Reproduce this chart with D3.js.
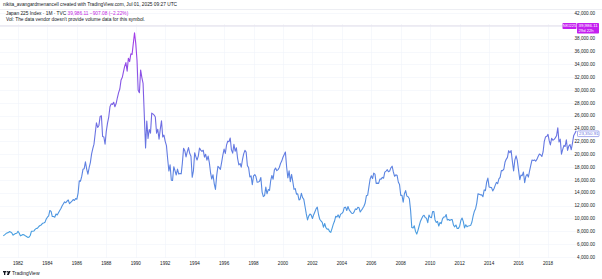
<!DOCTYPE html>
<html>
<head>
<meta charset="utf-8">
<script src="https://cdn.jsdelivr.net/npm/d3@7"></script>
<style>
  body { margin: 0; background: #fff; }
  svg text { font-family: "Liberation Sans", Arial, sans-serif; }
</style>
</head>
<body>
<div id="chart"></div>
<script>
var outerWidth = 602,
    outerHeight = 279;

var startYear = 1981;

// Nikkei 225, monthly closes, Jan 1981 .. Dec 2019 (12 per row)
var closes = [
  7300, 7450, 7600, 7750, 7800, 7950, 7900, 7750, 7400, 7550, 7650, 7700,
  8000, 7700, 7300, 7400, 7500, 7450, 7300, 7200, 7050, 7100, 7350, 8016,
  8000, 8050, 8300, 8450, 8500, 8750, 8900, 9000, 9250, 9300, 9400, 9893,
  10200, 10400, 11250, 11100, 10300, 10300, 10200, 10700, 10550, 10900, 11250, 11542,
  11990, 12300, 12580, 12450, 12700, 12880, 12300, 12500, 12700, 12950, 12800, 13113,
  13000, 14000, 15860, 15800, 16550, 17650, 17750, 18820, 17700, 16900, 17900, 18701,
  20050, 20900, 21570, 23270, 24900, 24180, 24490, 25900, 26000, 22770, 22690, 21564,
  23620, 24900, 25800, 27400, 27850, 27770, 28100, 27400, 27900, 28800, 29600, 30159,
  31580, 31990, 32840, 33710, 34270, 32950, 34950, 34430, 35640, 35550, 37270, 38916,
  37190, 34590, 29980, 29580, 33130, 31940, 31040, 25980, 20980, 25190, 22450, 23849,
  23290, 26410, 26290, 26110, 25790, 23290, 23900, 22340, 23920, 25220, 22690, 22984,
  22020, 21340, 19350, 17390, 18350, 15950, 15910, 18060, 17400, 16770, 17680, 16925,
  17020, 16950, 18590, 20920, 20550, 19590, 20380, 21030, 20110, 19700, 16410, 17417,
  20230, 19600, 19110, 19720, 20970, 20640, 20450, 20630, 19560, 19990, 19080, 19723,
  18650, 17050, 16140, 16810, 15440, 14520, 16680, 18120, 17910, 17650, 18740, 19868,
  20810, 20130, 21410, 22040, 21950, 22530, 20690, 20170, 21560, 20470, 21020, 19361,
  18330, 18560, 18000, 19150, 20070, 20610, 20330, 18230, 17890, 16460, 16640, 15258,
  16630, 16830, 16530, 15640, 15670, 15830, 16380, 14110, 13410, 13560, 14880, 13842,
  14500, 14370, 15840, 16700, 16110, 17530, 17860, 17440, 17610, 17940, 18560, 18934,
  19540, 19960, 20340, 17970, 16330, 17410, 15730, 16860, 15750, 14540, 14650, 13786,
  13840, 12880, 13000, 13930, 13260, 12970, 11860, 10710, 9770, 10370, 10700, 10543,
  9990, 10590, 11020, 11490, 11760, 10620, 9880, 9620, 9380, 8640, 9220, 8579,
  8340, 8360, 7970, 7830, 8420, 9080, 9560, 10340, 10220, 10560, 10100, 10677,
  10780, 11040, 11720, 11760, 11240, 11860, 11330, 11080, 10820, 10770, 11030, 11489,
  11390, 11740, 11670, 11010, 11280, 11580, 11900, 12410, 13570, 13610, 14870, 16111,
  16650, 16210, 17060, 16910, 15470, 15510, 15460, 16140, 16130, 16400, 16270, 17226,
  17380, 17600, 17290, 17400, 17880, 18140, 17250, 16570, 16790, 16740, 15680, 15308,
  13590, 13600, 12530, 13850, 14340, 13480, 13380, 13070, 11260, 8580, 8510, 8860,
  7990, 7570, 8110, 8830, 9520, 9960, 10360, 10490, 10130, 10030, 9350, 10546,
  10200, 10130, 11090, 11060, 9770, 9380, 9540, 8820, 9370, 9200, 9940, 10229,
  10240, 10620, 9760, 9850, 9690, 9820, 9830, 8960, 8700, 8990, 8430, 8455,
  8800, 9720, 10080, 9520, 8540, 9010, 8700, 8840, 8870, 8930, 9450, 10395,
  11140, 11560, 12400, 13860, 13770, 13680, 13670, 13390, 14460, 14330, 15660, 16291,
  14910, 14840, 14830, 14300, 14630, 15160, 15620, 15420, 16170, 16410, 17460, 17451,
  17670, 18800, 19210, 19520, 20560, 20240, 20590, 18890, 17390, 19080, 19750, 19034,
  17520, 16030, 16760, 16670, 17230, 15580, 16570, 16890, 16450, 17430, 18310, 19114,
  19040, 19120, 18910, 19200, 19650, 20030, 19930, 19650, 20360, 22010, 22720, 22765,
  23100, 22070, 21450, 22470, 22200, 22300, 22550, 22870, 24120, 21920, 22350, 20015,
  20770, 21390, 21210, 22260, 20600, 21280, 21520, 20700, 21760, 22930, 23290, 23657
];

var yearTicks = d3.range(1982, 2019, 2);
var priceTicks = d3.range(4000, 42001, 2000);
var hiddenPriceTicks = [40000];

var lastPrice = 39986.11,
    lastChange = -907.08,
    lastChangePct = -2.22,
    lastPlotted = 23350.91;

var headerLine = "nikita_avangardmenancell created with TradingView.com, Jul 01, 2025 09:27 UTC";
var legendName = "Japan 225 Index · 1M · TVC";
var volumeNote = "Vol: The data vendor doesn't provide volume data for this symbol.";

var data = closes.map(function(v, i) {
    return { date: new Date(startYear + Math.floor(i / 12), i % 12, 1), close: v };
});

var x = d3.scaleTime()
    .domain([new Date(1982, 0, 1), new Date(2018, 0, 1)])
    .range([18, 548]);

var y = d3.scaleLinear()
    .domain([4000, 42000])
    .range([257, 13]);

var fmt = d3.format(",.2f");
var plotRight = 576;

var svg = d3.select("#chart").append("svg")
    .attr("width", outerWidth)
    .attr("height", outerHeight);

var defs = svg.append("defs");
var grad = defs.append("linearGradient")
    .attr("id", "lineGrad")
    .attr("gradientUnits", "userSpaceOnUse")
    .attr("x1", 0).attr("x2", 0)
    .attr("y1", y(38000)).attr("y2", y(7000));
grad.append("stop").attr("offset", "0%").attr("stop-color", "#a23ee8");
grad.append("stop").attr("offset", "45%").attr("stop-color", "#6c6fe2");
grad.append("stop").attr("offset", "100%").attr("stop-color", "#46a0e0");

// chart frame
svg.append("line")
    .attr("x1", 0).attr("x2", outerWidth)
    .attr("y1", 9.5).attr("y2", 9.5)
    .style("stroke", "#e0e3eb").style("stroke-width", 0.6);

// grid
svg.append("g").selectAll("line.h")
    .data(priceTicks)
    .enter().append("line")
    .attr("x1", 0).attr("x2", plotRight)
    .attr("y1", function(d) { return Math.round(y(d)) + 0.5; })
    .attr("y2", function(d) { return Math.round(y(d)) + 0.5; })
    .style("stroke", "#f0f3fa").style("stroke-width", 0.6);

svg.append("g").selectAll("line.v")
    .data(yearTicks)
    .enter().append("line")
    .attr("x1", function(d) { return Math.round(x(new Date(d, 0, 1))) + 0.5; })
    .attr("x2", function(d) { return Math.round(x(new Date(d, 0, 1))) + 0.5; })
    .attr("y1", 24).attr("y2", 258)
    .style("stroke", "#f0f3fa").style("stroke-width", 0.6);

// last price line
svg.append("line")
    .attr("x1", 0).attr("x2", plotRight)
    .attr("y1", y(lastPrice)).attr("y2", y(lastPrice))
    .style("stroke", "#e6e3ee").style("stroke-width", 1.2);

// the series
var line = d3.line()
    .x(function(d) { return x(d.date); })
    .y(function(d) { return y(d.close); });

svg.append("path")
    .datum(data)
    .attr("d", line)
    .style("fill", "none")
    .style("stroke", "url(#lineGrad)")
    .style("stroke-width", 1.1)
    .style("stroke-linejoin", "round");

// right price axis
svg.append("g").selectAll("text")
    .data(priceTicks.filter(function(d) { return hiddenPriceTicks.indexOf(d) < 0; }))
    .enter().append("text")
    .attr("x", 595)
    .attr("y", function(d) { return y(d); })
    .attr("dy", "0.35em")
    .style("text-anchor", "end")
    .style("font-size", "4.6px")
    .style("fill", "#131722")
    .text(function(d) { return fmt(d); });

// time axis
svg.append("g").selectAll("text")
    .data(yearTicks)
    .enter().append("text")
    .attr("x", function(d) { return x(new Date(d, 0, 1)); })
    .attr("y", 264.5)
    .style("text-anchor", "middle")
    .style("font-size", "4.6px")
    .style("fill", "#131722")
    .text(function(d) { return d; });

// symbol tag + last price label
var tagY = y(lastPrice);
svg.append("rect")
    .attr("x", 562.5).attr("y", tagY - 3)
    .attr("width", 14).attr("height", 6)
    .attr("rx", 0.8)
    .style("fill", "#c41ff0");
svg.append("text")
    .attr("x", 569.5).attr("y", tagY).attr("dy", "0.35em")
    .style("text-anchor", "middle").style("font-size", "4px")
    .style("fill", "#fff")
    .text("NKI225");
svg.append("rect")
    .attr("x", 577).attr("y", tagY - 3)
    .attr("width", 22).attr("height", 10.5)
    .attr("rx", 0.8)
    .style("fill", "#c41ff0");
svg.append("text")
    .attr("x", 578.5).attr("y", tagY).attr("dy", "0.35em")
    .style("font-size", "4.4px").style("fill", "#fff")
    .text(fmt(lastPrice));
svg.append("text")
    .attr("x", 578.5).attr("y", tagY + 5).attr("dy", "0.35em")
    .style("font-size", "4.2px").style("fill", "#fff")
    .text("29d 22h");

// last plotted value box
var boxY = y(data[data.length - 1].close) + 3;
svg.append("rect")
    .attr("x", 577.5).attr("y", boxY - 2.8)
    .attr("width", 21.5).attr("height", 5.6)
    .attr("rx", 0.8)
    .style("fill", "#fff")
    .style("stroke", "#6a73e0").style("stroke-width", 0.6);
svg.append("text")
    .attr("x", 579).attr("y", boxY).attr("dy", "0.35em")
    .style("font-size", "4.4px").style("fill", "#6a73e0")
    .text(fmt(lastPlotted));

// header and legend
svg.append("text")
    .attr("x", 3).attr("y", 6)
    .style("font-size", "4.8px").style("fill", "#131722")
    .text(headerLine);

var legend = svg.append("text")
    .attr("x", 6).attr("y", 15)
    .style("font-size", "4.8px").style("fill", "#131722");
legend.append("tspan").text(legendName + "  ");
legend.append("tspan")
    .style("fill", "#c026e0")
    .text(fmt(lastPrice) + "  " + d3.format(",.2f")(lastChange).replace("-", "\u2212") +
          " (" + String(lastChangePct.toFixed(2)).replace("-", "\u2212") + "%)");

svg.append("text")
    .attr("x", 6).attr("y", 21)
    .style("font-size", "4.8px").style("fill", "#131722")
    .text(volumeNote);

// footer logo
var logo = svg.append("g").attr("transform", "translate(3,271)");
logo.append("rect").attr("x", 0).attr("y", 0).attr("width", 3.2).attr("height", 1.4).style("fill", "#131722");
logo.append("rect").attr("x", 1).attr("y", 0).attr("width", 1.3).attr("height", 4).style("fill", "#131722");
logo.append("circle").attr("cx", 4.4).attr("cy", 0.8).attr("r", 0.8).style("fill", "#131722");
logo.append("path").attr("d", "M5.6,0 L7.6,0 L5.8,4 L3.8,4 Z").style("fill", "#131722");
svg.append("text")
    .attr("x", 12).attr("y", 274.5)
    .style("font-size", "5px").style("fill", "#131722")
    .text("TradingView");
</script>
</body>
</html>
